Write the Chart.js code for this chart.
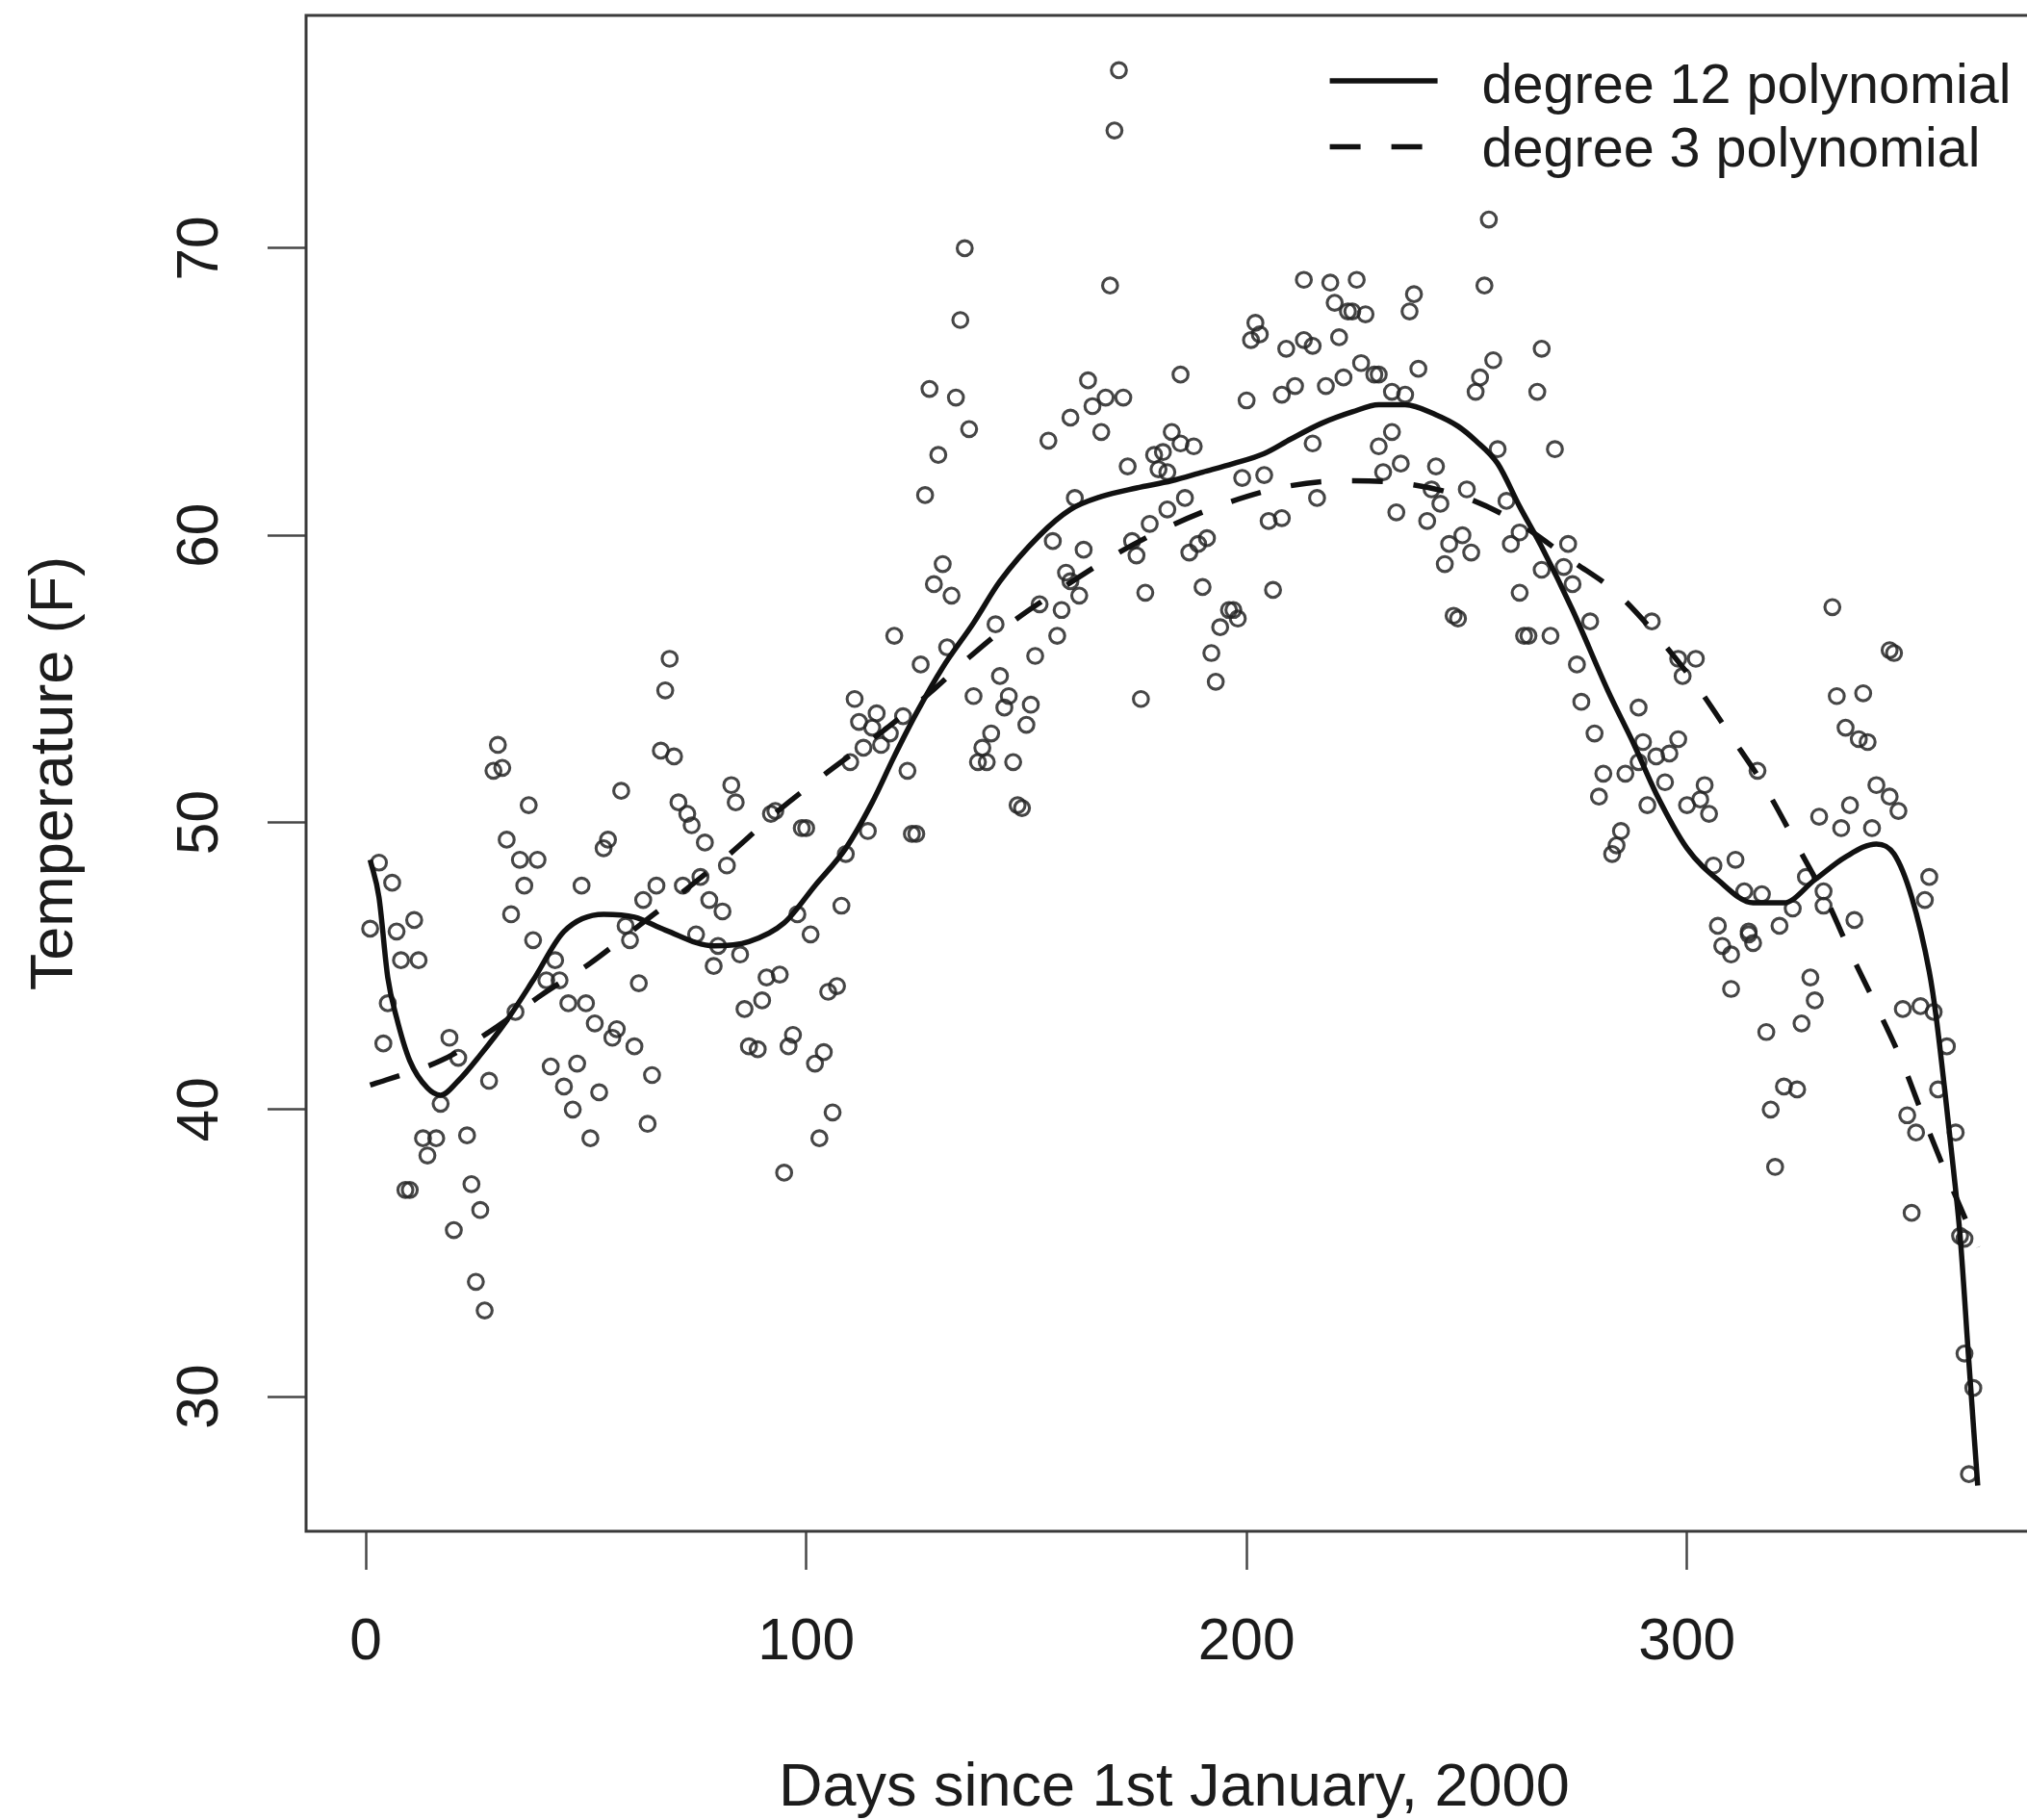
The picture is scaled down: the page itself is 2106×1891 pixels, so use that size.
<!DOCTYPE html>
<html>
<head>
<meta charset="utf-8">
<script src="https://cdn.jsdelivr.net/npm/chart.js@4.4.1/dist/chart.umd.min.js"></script>
<style>
  html, body { margin: 0; padding: 0; background: #ffffff; overflow: hidden; }
  #wrap { position: absolute; left: 0; top: 0; width: 2140px; height: 1891px; }
</style>
</head>
<body>
<div id="wrap"><canvas id="c" width="2140" height="1891"></canvas></div>
<script>
// Daily temperature observations for 2000: day number and temperature (F)
const obsDays = [
  1, 3, 4, 5, 6, 7, 8, 9, 10, 11,
  12, 13, 14, 16, 17, 19, 20, 21, 23, 24,
  25, 26, 27, 28, 29, 30, 31, 32, 33, 34,
  35, 36, 37, 38, 39, 41, 42, 43, 44, 45,
  46, 47, 48, 49, 50, 51, 52, 53, 54, 55,
  56, 57, 58, 59, 60, 61, 62, 63, 64, 65,
  66, 67, 68, 69, 70, 71, 72, 73, 74, 75,
  76, 77, 78, 79, 80, 81, 82, 83, 84, 85,
  86, 87, 89, 90, 91, 92, 93, 94, 95, 96,
  97, 98, 99, 100, 101, 102, 103, 104, 105, 106,
  107, 108, 109, 110, 111, 112, 113, 114, 115, 116,
  117, 119, 120, 122, 123, 124, 125, 126, 127, 128,
  129, 130, 131, 132, 133, 134, 135, 136, 137, 138,
  139, 140, 141, 142, 143, 144, 145, 146, 147, 148,
  149, 150, 151, 152, 153, 155, 156, 157, 158, 159,
  160, 160, 161, 162, 163, 164, 165, 167, 168, 169,
  170, 171, 172, 173, 174, 175, 176, 177, 178, 179,
  180, 181, 182, 182, 183, 185, 185, 186, 187, 188,
  189, 190, 191, 192, 193, 194, 196, 197, 198, 199,
  200, 201, 202, 203, 204, 205, 206, 208, 208, 209,
  211, 213, 213, 215, 215, 216, 218, 219, 220, 221,
  222, 223, 224, 225, 226, 227, 229, 230, 230, 231,
  233, 233, 234, 235, 236, 237, 238, 239, 241, 242,
  243, 244, 245, 246, 247, 248, 249, 250, 251, 252,
  253, 254, 255, 256, 257, 259, 260, 262, 262, 263,
  264, 266, 267, 267, 269, 270, 272, 273, 274, 275,
  276, 278, 279, 280, 281, 283, 284, 285, 286, 289,
  289, 290, 291, 292, 293, 295, 296, 298, 298, 299,
  300, 302, 303, 304, 305, 306, 307, 308, 310, 310,
  311, 313, 314, 314, 315, 316, 317, 318, 319, 320,
  321, 322, 324, 325, 326, 327, 328, 329, 330, 331,
  331, 333, 334, 335, 336, 337, 338, 339, 340, 341,
  342, 343, 346, 346, 347, 348, 349, 350, 351, 352,
  353, 354, 355, 356, 357, 359, 361, 362, 363, 363,
  364, 365
];
const obsTemps = [
  46.3, 48.6, 42.3, 43.7, 47.9, 46.2, 45.2, 37.2, 37.2, 46.6,
  45.2, 39.0, 38.4, 39.0, 40.2, 42.5, 35.8, 41.8, 39.1, 37.4,
  34.0, 36.5, 33.0, 41.0, 51.8, 52.7, 51.9, 49.4, 46.8, 43.4,
  48.7, 47.8, 50.6, 45.9, 48.7, 44.5, 41.5, 45.2, 44.5, 40.8,
  43.7, 40.0, 41.6, 47.8, 43.7, 39.0, 43.0, 40.6, 49.1, 49.4,
  42.5, 42.8, 51.1, 46.4, 45.9, 42.2, 44.4, 47.3, 39.5, 41.2,
  47.8, 52.5, 54.6, 55.7, 52.3, 50.7, 47.8, 50.3, 49.9, 46.1,
  48.1, 49.3, 47.3, 45.0, 45.7, 46.9, 48.5, 51.3, 50.7, 45.4,
  43.5, 42.2, 42.1, 43.8, 44.6, 50.3, 50.4, 44.7, 37.8, 42.2,
  42.6, 46.8, 49.8, 49.8, 46.1, 41.6, 39.0, 42.0, 44.1, 39.9,
  44.3, 47.1, 48.9, 52.1, 54.3, 53.5, 52.6, 49.7, 53.3, 53.8,
  52.7, 53.1, 56.5, 53.7, 51.8, 49.6, 49.6, 55.5, 61.4, 65.1,
  58.3, 62.8, 59.0, 56.1, 57.9, 64.8, 67.5, 70.0, 63.7, 54.4,
  52.1, 52.6, 52.1, 53.1, 56.9, 55.1, 54.0, 54.4, 52.1, 50.6,
  50.5, 53.4, 54.1, 55.8, 57.6, 63.3, 59.8, 56.5, 57.4, 58.7,
  58.4, 64.1, 61.3, 57.9, 59.5, 65.4, 64.5, 63.6, 64.8, 68.7,
  74.1, 76.2, 64.8, 62.4, 59.8, 59.3, 54.3, 58.0, 60.4, 62.8,
  62.3, 62.9, 62.2, 60.9, 63.6, 65.6, 63.2, 61.3, 59.4, 63.1,
  59.7, 58.2, 59.9, 55.9, 54.9, 56.8, 57.4, 57.4, 57.1, 62.0,
  64.7, 66.8, 67.4, 67.0, 62.1, 60.5, 58.1, 64.9, 60.6, 66.5,
  65.2, 68.9, 66.8, 66.6, 63.2, 61.3, 65.2, 68.8, 68.1, 66.9,
  65.5, 67.8, 67.8, 68.9, 66.0, 67.7, 65.6, 65.6, 63.1, 62.2,
  65.0, 63.6, 60.8, 62.5, 64.9, 67.8, 68.4, 65.8, 60.5, 61.6,
  62.4, 61.1, 59.0, 59.7, 57.2, 57.1, 60.0, 61.6, 59.4, 65.0,
  65.5, 68.7, 71.0, 66.1, 63.0, 61.2, 59.7, 58.0, 60.1, 56.5,
  56.5, 65.0, 66.5, 58.8, 56.5, 63.0, 58.9, 59.7, 58.3, 55.5,
  54.2, 57.0, 53.1, 50.9, 51.7, 48.9, 49.2, 49.7, 51.7, 54.0,
  52.1, 52.8, 50.6, 57.0, 52.3, 51.4, 52.4, 55.7, 52.9, 55.1,
  50.6, 55.7, 50.8, 51.3, 50.3, 48.5, 46.4, 45.7, 45.4, 44.2,
  48.7, 47.6, 46.1, 46.2, 45.8, 51.8, 47.5, 42.7, 40.0, 38.0,
  46.4, 40.8, 47.0, 40.7, 43.0, 48.1, 44.6, 43.8, 50.2, 47.6,
  47.1, 57.5, 54.4, 49.8, 53.3, 50.6, 46.6, 52.9, 54.5, 52.8,
  49.8, 51.3, 56.0, 50.9, 55.9, 50.4, 43.5, 39.8, 36.4, 39.2,
  43.6, 47.3, 48.1, 43.4, 40.7, 42.2, 39.2, 35.6, 35.5, 31.5,
  27.3, 30.3
];

// Degree 12 polynomial fit, sampled along the year
const fit12Days = [1, 3, 5, 7, 10, 14, 17, 21, 26, 32, 38, 45, 54, 61, 68, 79, 87, 95, 102, 109,
  115, 120, 125, 131, 138, 144, 153, 160, 167, 175, 183, 190, 197, 204, 210, 217, 224, 230, 236, 243,
  248, 252, 257, 262, 267, 274, 282, 288, 293, 300, 307, 315, 322, 329, 336, 343, 347, 351, 355, 356.5,
  358.5, 360.5, 362, 364, 366];
const fit12Temps = [48.7, 47.4, 44.6, 43.2, 41.7, 40.75, 40.5, 41.0, 41.9, 43.1, 44.5, 46.2, 46.8, 46.7, 46.25, 45.7, 45.85, 46.5, 47.8, 49.1,
  50.7, 52.3, 53.8, 55.4, 56.95, 58.4, 60.0, 60.9, 61.35, 61.65, 61.9, 62.2, 62.5, 62.85, 63.35, 63.9, 64.3, 64.55, 64.55, 64.2,
  63.8, 63.3, 62.5, 61.0, 59.6, 57.4, 54.6, 52.7, 51.0, 49.1, 48.0, 47.2, 47.2, 48.0, 48.8, 49.25, 48.9, 47.4, 44.8, 43.3,
  40.7, 37.9, 35.6, 31.2, 26.9];

// Degree 3 polynomial fit, sampled along the year
const fit3Days = [1, 5, 17, 28, 40, 51, 62, 73, 83, 94, 104, 118, 128, 137, 147, 159, 171, 183, 196, 209,
  222, 236, 250, 262, 274, 284, 294, 302, 310, 318, 325, 332, 337, 343, 349, 354, 359, 366];
const fit3Temps = [40.85, 41.05, 41.7, 42.7, 44.0, 45.1, 46.4, 47.7, 48.95, 50.45, 51.65, 53.25, 54.5, 55.75, 57.0, 58.25, 59.4, 60.35, 61.15, 61.7,
  61.9, 61.8, 61.3, 60.4, 59.1, 58.0, 56.35, 54.8, 53.0, 51.15, 49.2, 47.2, 45.5, 43.6, 41.6, 39.6, 37.7, 35.2];

const xTickValues = [0, 100, 200, 300];
const yTickValues = [30, 40, 50, 60, 70];
const seriesLabels = ['degree 12 polynomial', 'degree 3 polynomial'];
const xTitle = 'Days since 1st January, 2000';
const yTitle = 'Temperature (F)';

const FONT = '"Liberation Sans", Arial, Helvetica, sans-serif';
const INK = '#1c1c1c';
const toXY = (xs, ys) => xs.map((x, i) => ({ x: x, y: ys[i] }));

// Plot frame plus the line key in the top-right corner
const frameAndKey = {
  id: 'frameAndKey',
  afterDraw(chart) {
    const { ctx, chartArea: a } = chart;
    ctx.save();
    ctx.lineWidth = 3;
    ctx.strokeStyle = '#3a3a3a';
    ctx.strokeRect(a.left, a.top, a.right - a.left, a.bottom - a.top);

    const lineX0 = a.right - 740, lineX1 = a.right - 628, textX = a.right - 582;
    const lineY = [a.top + 68, a.top + 136.5];
    const baseY = [a.top + 90.7, a.top + 157.3];
    ctx.font = '57.5px ' + FONT;
    ctx.textAlign = 'left';
    ctx.textBaseline = 'alphabetic';
    [0, 1].forEach(i => {
      const ds = chart.data.datasets[i];
      ctx.beginPath();
      ctx.setLineDash(ds.borderDash || []);
      ctx.lineWidth = ds.borderWidth;
      ctx.strokeStyle = ds.borderColor;
      ctx.lineCap = 'butt';
      ctx.moveTo(lineX0, lineY[i]);
      ctx.lineTo(lineX1, lineY[i]);
      ctx.stroke();
      ctx.setLineDash([]);
      ctx.fillStyle = INK;
      ctx.fillText(ds.label, textX, baseY[i]);
    });
    ctx.restore();
  }
};

new Chart(document.getElementById('c'), {
  type: 'scatter',
  data: {
    datasets: [
      {
        type: 'line', label: seriesLabels[0], data: toXY(fit12Days, fit12Temps),
        borderColor: '#111111', borderWidth: 5.5, pointRadius: 0, fill: false,
        cubicInterpolationMode: 'monotone', order: 0
      },
      {
        type: 'line', label: seriesLabels[1], data: toXY(fit3Days, fit3Temps),
        borderColor: '#111111', borderWidth: 5.5, borderDash: [32, 32], pointRadius: 0, fill: false,
        cubicInterpolationMode: 'monotone', order: 1
      },
      {
        type: 'scatter', label: 'observed', data: toXY(obsDays, obsTemps),
        pointStyle: 'circle', pointRadius: 7.8, borderWidth: 3.1,
        borderColor: 'rgba(38,38,38,0.85)', backgroundColor: 'rgba(0,0,0,0)', order: 2
      }
    ]
  },
  options: {
    responsive: false,
    animation: false,
    devicePixelRatio: 1,
    events: [],
    layout: { padding: { left: 0, top: 16, right: 18.4, bottom: 0 } },
    plugins: { legend: { display: false }, tooltip: { enabled: false } },
    scales: {
      x: {
        type: 'linear', position: 'bottom', min: -13.55, max: 380.6,
        afterBuildTicks: s => { s.ticks = xTickValues.map(v => ({ value: v })); },
        afterFit: s => { s.height = 300; s.paddingLeft = 0; s.paddingRight = 0; },
        grid: { display: true, drawOnChartArea: false, drawTicks: true, tickLength: 40, tickWidth: 2.5, tickColor: '#474747' },
        border: { display: false },
        ticks: {
          autoSkip: false, maxRotation: 0, minRotation: 0, padding: 46, color: INK,
          font: { family: FONT, size: 60.5, lineHeight: 1 },
          callback: v => String(v)
        },
        title: {
          display: true, text: xTitle, color: INK,
          font: { family: FONT, size: 63, lineHeight: 1 }, padding: { top: 0, bottom: 1 }
        }
      },
      y: {
        type: 'linear', position: 'left', min: 25.31, max: 78.11,
        afterBuildTicks: s => { s.ticks = yTickValues.map(v => ({ value: v })); },
        afterFit: s => { s.width = 318; s.paddingTop = 0; s.paddingBottom = 0; },
        grid: { display: true, drawOnChartArea: false, drawTicks: true, tickLength: 40, tickWidth: 2.5, tickColor: '#474747' },
        border: { display: false },
        ticks: {
          autoSkip: false, minRotation: 90, maxRotation: 90, crossAlign: 'center', padding: 35.4, color: INK,
          font: { family: FONT, size: 60.5, lineHeight: 1 },
          callback: v => String(v)
        },
        title: {
          display: true, text: yTitle, color: INK,
          font: { family: FONT, size: 63, lineHeight: 1 }, padding: { top: 26.5, bottom: 0 }
        }
      }
    }
  },
  plugins: [frameAndKey]
});
</script>
</body>
</html>
